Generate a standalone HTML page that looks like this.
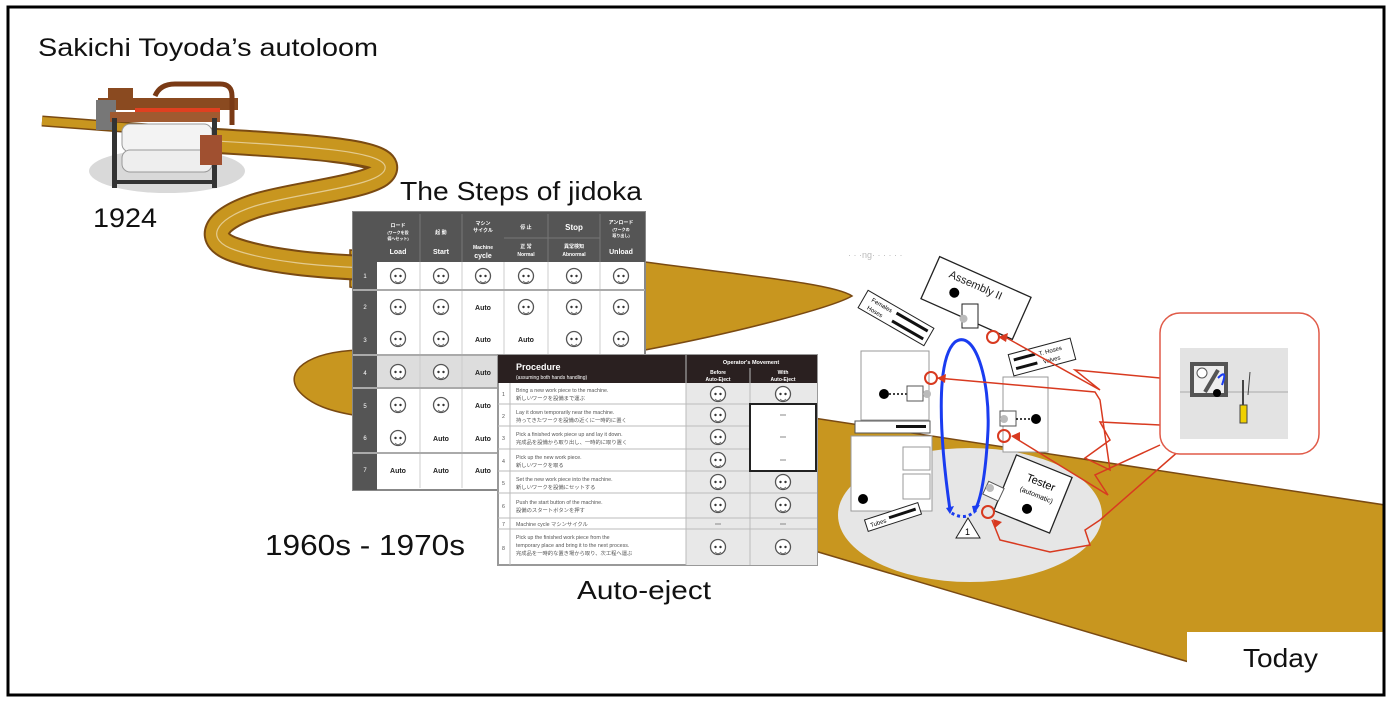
<!DOCTYPE html>
<html><head><meta charset="utf-8"><style>
html,body{margin:0;padding:0;background:#fff}
svg{display:block}
text{font-family:"Liberation Sans","Noto Sans CJK JP",sans-serif}
</style></head><body>
<svg width="1390" height="704" viewBox="0 0 1390 704" xmlns="http://www.w3.org/2000/svg">
<rect width="1390" height="704" fill="#fff"/>
<defs>
<g id="face"><circle r="7.5" fill="#fff" stroke="#555" stroke-width="1.3"/><circle cx="-2.5" cy="0" r="1.2" fill="#333"/><circle cx="2.5" cy="0" r="1.2" fill="#333"/><path d="M-3,5 Q0,8 3,5" fill="none" stroke="#555" stroke-width="0.8"/></g>
<clipPath id="fr"><rect x="9" y="8" width="1374" height="686"/></clipPath>
</defs>
<g clip-path="url(#fr)">
<!-- lower band -->
<path d="M520,350 L360,350 C305,352 285,372 298,390 C310,405 332,412 360,416 L1182,660 L1390,720 L1385,505 L820,419 L650,393 Z" fill="#c8961f" stroke="#7a4a12" stroke-width="1.5"/>
<!-- upper band to tip -->
<path d="M350,250 L645,262 C750,276 835,284 852,296 C835,306 750,330 645,350 L350,287 Z" fill="#c8961f" stroke="#7a4a12" stroke-width="1.5"/>
<!-- winding road -->
<path d="M42,121 L240,136" stroke="#7a4a12" stroke-width="11" fill="none"/>
<path d="M42,121 L240,136" stroke="#c8961f" stroke-width="8" fill="none"/>
<path d="M200,140 C300,146 380,150 385,166 C390,186 300,192 255,206 C212,220 205,240 235,250 C270,262 320,266 365,268" stroke="#7a4a12" stroke-width="26" fill="none"/>
<path d="M200,140 C300,146 380,150 385,166 C390,186 300,192 255,206 C212,220 205,240 235,250 C270,262 320,266 365,268" stroke="#c8961f" stroke-width="22" fill="none"/>
<path d="M200,140 C300,146 380,150 385,166 C390,186 300,192 255,206 C212,220 205,240 235,250 C270,262 320,266 365,268" stroke="#fff" stroke-width="1.2" fill="none" opacity="0.5"/>

<!-- loom -->
<ellipse cx="167" cy="171" rx="78" ry="22" fill="#d9d9d9"/>
<g>
<rect x="98" y="98" width="140" height="12" fill="#8a4a20"/>
<rect x="96" y="100" width="20" height="30" fill="#777"/>
<path d="M155,96 Q160,84 175,84 L220,84 Q232,84 232,96 L232,125" stroke="#7a3a15" stroke-width="5" fill="none"/>
<rect x="108" y="88" width="25" height="10" fill="#8a4a20"/>
<rect x="135" y="108" width="85" height="6" fill="#e04020"/>
<rect x="110" y="112" width="110" height="10" fill="#a05a30"/>
<rect x="122" y="124" width="90" height="28" rx="8" fill="#f3f3f3" stroke="#999"/>
<rect x="122" y="150" width="90" height="22" rx="8" fill="#eee" stroke="#999"/>
<rect x="112" y="118" width="5" height="70" fill="#333"/>
<rect x="212" y="118" width="5" height="70" fill="#333"/>
<rect x="112" y="180" width="105" height="4" fill="#333"/>
<rect x="200" y="135" width="22" height="30" fill="#a05030"/>
</g>

<!-- table 1 -->
<g>
<rect x="353" y="212" width="292" height="278" fill="#fff" stroke="#888" stroke-width="2"/>
<rect x="353" y="212" width="24" height="278" fill="#555"/>
<rect x="353" y="212" width="292" height="50" fill="#555"/>
<rect x="377" y="355" width="266" height="33" fill="#ddd"/>
<g stroke="#ccc" stroke-width="1">
<line x1="420" y1="262" x2="420" y2="488"/><line x1="462" y1="262" x2="462" y2="488"/><line x1="504" y1="262" x2="504" y2="488"/><line x1="548" y1="262" x2="548" y2="488"/><line x1="600" y1="262" x2="600" y2="488"/>
</g>
<g stroke="#aaa" stroke-width="2">
<line x1="353" y1="290" x2="645" y2="290"/><line x1="353" y1="355" x2="645" y2="355"/><line x1="353" y1="388" x2="645" y2="388"/><line x1="353" y1="453" x2="645" y2="453"/>
</g>
<g stroke="#777" stroke-width="1"><line x1="420" y1="214" x2="420" y2="262"/><line x1="462" y1="214" x2="462" y2="262"/><line x1="548" y1="214" x2="548" y2="262"/><line x1="600" y1="214" x2="600" y2="262"/><line x1="504" y1="238" x2="600" y2="238"/></g>
<g fill="#fff" font-size="7" font-weight="bold" text-anchor="middle">
<text x="398" y="227" font-size="5">ロード</text><text x="398" y="234" font-size="4">(ワークを設</text><text x="398" y="240" font-size="4">備へセット)</text><text x="398" y="254">Load</text>
<text x="441" y="234" font-size="5">起 動</text><text x="441" y="254">Start</text>
<text x="483" y="225" font-size="5">マシン</text><text x="483" y="232" font-size="5">サイクル</text><text x="483" y="249" font-size="5">Machine</text><text x="483" y="258">cycle</text>
<text x="526" y="229" font-size="5">停 止</text><text x="574" y="230" font-size="8">Stop</text>
<text x="526" y="248" font-size="5">正 常</text><text x="526" y="256" font-size="5">Normal</text>
<text x="574" y="248" font-size="5">異常検知</text><text x="574" y="256" font-size="5">Abnormal</text>
<text x="621" y="224" font-size="5">アンロード</text><text x="621" y="231" font-size="4">(ワークの</text><text x="621" y="237" font-size="4">取り出し)</text><text x="621" y="254">Unload</text>
<text x="365" y="278" font-size="6" font-weight="normal">1</text><text x="365" y="309" font-size="6" font-weight="normal">2</text><text x="365" y="342" font-size="6" font-weight="normal">3</text><text x="365" y="375" font-size="6" font-weight="normal">4</text><text x="365" y="408" font-size="6" font-weight="normal">5</text><text x="365" y="440" font-size="6" font-weight="normal">6</text><text x="365" y="472" font-size="6" font-weight="normal">7</text>
</g>
<use href="#face" x="398" y="276"/><use href="#face" x="441" y="276"/><use href="#face" x="483" y="276"/><use href="#face" x="526" y="276"/><use href="#face" x="574" y="276"/><use href="#face" x="621" y="276"/>
<use href="#face" x="398" y="307"/><use href="#face" x="441" y="307"/><use href="#face" x="526" y="307"/><use href="#face" x="574" y="307"/><use href="#face" x="621" y="307"/>
<use href="#face" x="398" y="339"/><use href="#face" x="441" y="339"/><use href="#face" x="574" y="339"/><use href="#face" x="621" y="339"/>
<use href="#face" x="398" y="372"/><use href="#face" x="441" y="372"/>
<use href="#face" x="398" y="405"/><use href="#face" x="441" y="405"/>
<use href="#face" x="398" y="438"/>
<g font-size="7" font-weight="bold" text-anchor="middle" fill="#222">
<text x="483" y="310">Auto</text><text x="483" y="342">Auto</text><text x="526" y="342">Auto</text><text x="483" y="375">Auto</text><text x="483" y="408">Auto</text><text x="441" y="441">Auto</text><text x="483" y="441">Auto</text><text x="398" y="473">Auto</text><text x="441" y="473">Auto</text><text x="483" y="473">Auto</text>
</g>
</g>

<!-- table 2 -->
<g>
<rect x="498" y="355" width="319" height="210" fill="#fff" stroke="#999" stroke-width="2"/>
<rect x="498" y="355" width="319" height="28" fill="#2a2020"/>
<rect x="686" y="383" width="131" height="182" fill="#e8e8e8"/>
<g stroke="#bbb" stroke-width="1">
<line x1="510" y1="383" x2="510" y2="565"/><line x1="686" y1="355" x2="686" y2="565"/><line x1="750" y1="368" x2="750" y2="565"/>
<line x1="498" y1="404" x2="817" y2="404"/><line x1="498" y1="426" x2="817" y2="426"/><line x1="498" y1="449" x2="817" y2="449"/><line x1="498" y1="471" x2="817" y2="471"/><line x1="498" y1="493" x2="817" y2="493"/><line x1="498" y1="518" x2="817" y2="518"/><line x1="498" y1="529" x2="817" y2="529"/>
</g>
<rect x="750" y="404" width="66" height="67" fill="#fff" stroke="#222" stroke-width="2"/>
<g fill="#fff" font-weight="bold">
<text x="516" y="370" font-size="9">Procedure</text>
<text x="516" y="379" font-size="5" font-weight="normal">(assuming both hands handling)</text>
<text x="751" y="364" font-size="5.5" text-anchor="middle">Operator's Movement</text>
<text x="718" y="374" font-size="5" text-anchor="middle">Before</text><text x="718" y="381" font-size="5" text-anchor="middle">Auto-Eject</text>
<text x="783" y="374" font-size="5" text-anchor="middle">With</text><text x="783" y="381" font-size="5" text-anchor="middle">Auto-Eject</text>
</g>
<g font-size="5.3" fill="#555">
<text x="502" y="396">1</text><text x="502" y="418">2</text><text x="502" y="440">3</text><text x="502" y="463">4</text><text x="502" y="485">5</text><text x="502" y="508">6</text><text x="502" y="526">7</text><text x="502" y="550">8</text>
<text x="516" y="392">Bring a new work piece to the machine.</text><text x="516" y="400">新しいワークを設備まで運ぶ</text>
<text x="516" y="414">Lay it down temporarily near the machine.</text><text x="516" y="422">持ってきたワークを設備の近くに一時的に置く</text>
<text x="516" y="436">Pick a finished work piece up and lay it down.</text><text x="516" y="444">完成品を設備から取り出し、一時的に取り置く</text>
<text x="516" y="459">Pick up the new work piece.</text><text x="516" y="467">新しいワークを取る</text>
<text x="516" y="481">Set the new work piece into the machine.</text><text x="516" y="489">新しいワークを設備にセットする</text>
<text x="516" y="504">Push the start button of the machine.</text><text x="516" y="512">設備のスタートボタンを押す</text>
<text x="516" y="526">Machine cycle マシンサイクル</text>
<text x="516" y="539">Pick up the finished work piece from the</text><text x="516" y="547">temporary place and bring it to the next process.</text><text x="516" y="555">完成品を一時的な置き場から取り、次工程へ運ぶ</text>
</g>
<use href="#face" x="718" y="394"/><use href="#face" x="783" y="394"/>
<use href="#face" x="718" y="415"/><use href="#face" x="718" y="437"/><use href="#face" x="718" y="460"/>
<use href="#face" x="718" y="482"/><use href="#face" x="783" y="482"/>
<use href="#face" x="718" y="505"/><use href="#face" x="783" y="505"/>
<use href="#face" x="718" y="547"/><use href="#face" x="783" y="547"/>
<g stroke="#888" stroke-width="1"><line x1="780" y1="415" x2="786" y2="415"/><line x1="780" y1="437" x2="786" y2="437"/><line x1="780" y1="460" x2="786" y2="460"/><line x1="715" y1="524" x2="721" y2="524"/><line x1="780" y1="524" x2="786" y2="524"/></g>
</g>

<!-- right diagram -->
<ellipse cx="970" cy="515" rx="132" ry="67" fill="#e6e6e6"/>
<text x="848" y="258" font-size="9" fill="#bbb">· · ·ng· · · ·  · ·</text>
<g transform="translate(976,298) rotate(24)"><rect x="-50" y="-23" width="100" height="46" fill="#fff" stroke="#222" stroke-width="1.3"/><text x="-34" y="-8" font-size="11" fill="#222">Assembly II</text><circle cx="-22" cy="4" r="5" fill="#000"/><rect x="-14" y="6" width="16" height="24" fill="#fff" stroke="#222" transform="rotate(-24)"/><circle cx="-3" cy="24" r="4" fill="#bbb"/></g>
<g transform="translate(896,318) rotate(30)"><rect x="-38" y="-10" width="76" height="20" fill="#fff" stroke="#222"/><text x="-30" y="-2" font-size="6">Females</text><text x="-30" y="7" font-size="6">Hoses</text><rect x="-2" y="-6" width="36" height="3" fill="#111"/><rect x="-2" y="3" width="36" height="3" fill="#111"/></g>
<rect x="861" y="351" width="68" height="69" fill="#fff" stroke="#999"/>
<circle cx="884" cy="394" r="5" fill="#000"/><line x1="889" y1="394" x2="907" y2="394" stroke="#000" stroke-width="1.5" stroke-dasharray="2,2"/><rect x="907" y="386" width="16" height="15" fill="#fff" stroke="#555"/><circle cx="927" cy="394" r="4" fill="#bbb"/>
<rect x="851" y="436" width="81" height="75" fill="#fff" stroke="#999"/>
<rect x="855" y="421" width="75" height="12" fill="#fff" stroke="#555"/><rect x="896" y="425" width="30" height="3" fill="#111"/>
<rect x="903" y="447" width="27" height="23" fill="#fff" stroke="#999"/><rect x="903" y="474" width="27" height="25" fill="#fff" stroke="#999"/>
<circle cx="863" cy="499" r="5" fill="#000"/>
<rect x="1003" y="377" width="45" height="75" fill="#fff" stroke="#999"/>
<circle cx="1036" cy="419" r="5" fill="#000"/><rect x="1000" y="411" width="16" height="15" fill="#fff" stroke="#555"/><circle cx="1004" cy="419" r="4" fill="#bbb"/><line x1="1016" y1="419" x2="1031" y2="419" stroke="#000" stroke-dasharray="2,2" stroke-width="1.5"/>
<g transform="translate(1042,357) rotate(-15)"><rect x="-32" y="-11" width="64" height="22" fill="#fff" stroke="#222"/><rect x="-28" y="-6" width="22" height="3" fill="#111"/><rect x="-28" y="3" width="22" height="3" fill="#111"/><text x="-2" y="-2" font-size="6">T. Hoses</text><text x="0" y="7" font-size="6">Valves</text></g>
<g transform="translate(893,517) rotate(-18)"><rect x="-28" y="-6" width="56" height="12" fill="#fff" stroke="#222"/><text x="-24" y="3" font-size="6">Tubes</text><rect x="-4" y="-2" width="28" height="3" fill="#111"/></g>
<g transform="translate(1033,494) rotate(22)"><rect x="-30" y="-30" width="60" height="60" fill="#fff" stroke="#222" stroke-width="1.3"/><text x="-12" y="-10" font-size="11">Tester</text><text x="-14" y="2" font-size="7">(automatic)</text><circle cx="0" cy="16" r="5" fill="#000"/></g>
<rect x="985" y="484" width="17" height="14" fill="#fff" stroke="#555" transform="rotate(25 993 491)"/><circle cx="990" cy="488" r="4" fill="#bbb"/>
<path d="M968,518 L980,538 L956,538 Z" fill="#fff" stroke="#222"/><text x="965" y="535" font-size="9">1</text>
<!-- blue loop -->
<path d="M950,510 C940,440 935,360 955,342 C975,328 990,380 988,430 C986,470 982,495 976,508" fill="none" stroke="#1a3cf0" stroke-width="3"/>
<path d="M976,510 Q965,522 950,512" fill="none" stroke="#1a3cf0" stroke-width="3" stroke-dasharray="3,3"/>
<path d="M946,508 L954,506 L950,514 Z M980,505 L974,514 L972,506 Z" fill="#1a3cf0"/>
<!-- red circles & lines -->
<g fill="none" stroke="#d83a20" stroke-width="2">
<circle cx="993" cy="337" r="6"/><circle cx="931" cy="378" r="6"/><circle cx="1004" cy="436" r="6"/><circle cx="988" cy="512" r="6"/>
</g>
<g fill="none" stroke="#d83a20" stroke-width="1.5">
<path d="M1160,378 L1075,370 L1100,390 L1005,337"/>
<path d="M1160,425 L1100,422 L1110,440 L1085,458 L1110,470 L1100,400 L1095,392 L937,378"/>
<path d="M1160,445 L1095,475 L1108,495 L1012,436"/>
<path d="M1180,450 L1100,520 L1085,530 L1090,545 L1050,552 L1000,540 L992,520"/>
</g>
<path d="M998,337 L1008,333 L1006,342 Z M937,378 L946,374 L945,383 Z M1011,436 L1020,432 L1020,441 Z M993,519 L1002,522 L995,528 Z" fill="#d83a20"/>
<rect x="1160" y="313" width="159" height="141" rx="20" fill="#fff" stroke="#e05a48" stroke-width="1.5"/>
<rect x="1180" y="348" width="108" height="91" fill="#e3e3e3"/>
<line x1="1180" y1="392" x2="1288" y2="392" stroke="#aaa"/>
<rect x="1190" y="362" width="38" height="35" fill="#555"/><rect x="1194" y="366" width="30" height="27" fill="#eee"/><circle cx="1202" cy="373" r="5" fill="#fff" stroke="#555"/><path d="M1205,392 L1218,370" stroke="#555" stroke-width="4"/><circle cx="1217" cy="393" r="4" fill="#000"/><path d="M1218,378 Q1228,368 1222,385" stroke="#1a3cf0" stroke-width="2" fill="none"/>
<rect x="1240" y="405" width="7" height="18" fill="#f0d000" stroke="#444"/><line x1="1243" y1="380" x2="1243" y2="405" stroke="#444" stroke-width="2"/><line x1="1250" y1="372" x2="1248" y2="395" stroke="#444"/>

<!-- Today box -->
<rect x="1187" y="632" width="200" height="70" fill="#fff"/>
</g>

<!-- titles -->
<g fill="#111">
<text x="38" y="56" font-size="25" textLength="340" lengthAdjust="spacingAndGlyphs">Sakichi Toyoda’s autoloom</text>
<text x="93" y="227" font-size="27" textLength="64" lengthAdjust="spacingAndGlyphs">1924</text>
<text x="400" y="200" font-size="26" textLength="242" lengthAdjust="spacingAndGlyphs">The Steps of jidoka</text>
<text x="265" y="555" font-size="29" textLength="200" lengthAdjust="spacingAndGlyphs">1960s - 1970s</text>
<text x="577" y="599" font-size="26" textLength="134" lengthAdjust="spacingAndGlyphs">Auto-eject</text>
<text x="1243" y="667" font-size="26" textLength="75" lengthAdjust="spacingAndGlyphs">Today</text>
</g>
<!-- frame -->
<rect x="8" y="7" width="1376" height="688" fill="none" stroke="#000" stroke-width="3"/>
</svg>
</body></html>
